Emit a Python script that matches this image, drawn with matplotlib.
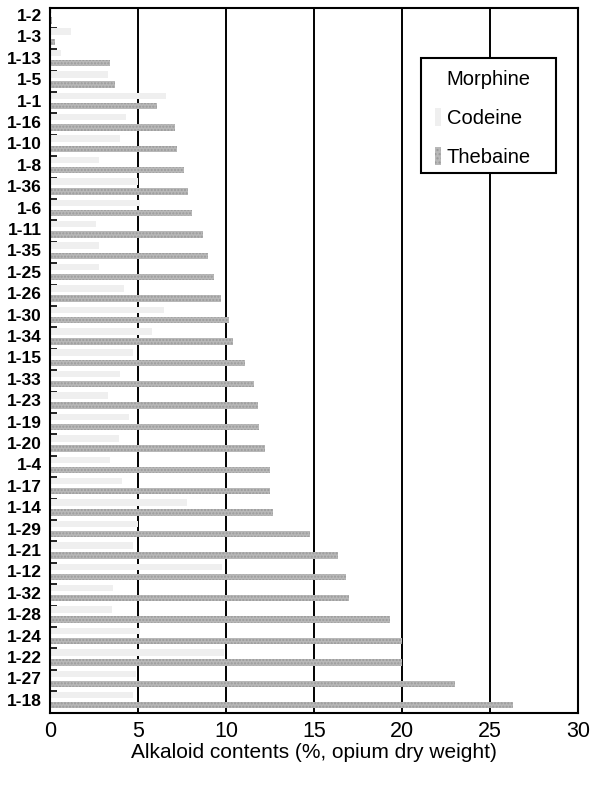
import numpy as np
import matplotlib
matplotlib.use('Agg')
import matplotlib.pyplot as plt
from matplotlib.patches import Patch, Rectangle

plt.rcParams['font.family'] = ['Liberation Sans', 'DejaVu Sans']

### samples, top to bottom
samples = ['1-2', '1-3', '1-13', '1-5', '1-1', '1-16', '1-10', '1-8', '1-36', '1-6',
           '1-11', '1-35', '1-25', '1-26', '1-30', '1-34', '1-15', '1-33', '1-23',
           '1-19', '1-20', '1-4', '1-17', '1-14', '1-29', '1-21', '1-12', '1-32',
           '1-28', '1-24', '1-22', '1-27', '1-18']

### faint dotted bars (codeine)
codeine = [0.1, 1.2, 0.6, 3.3, 6.6, 4.3, 4.0, 2.8, 5.0, 5.1,
           2.6, 2.8, 2.8, 4.2, 6.5, 5.8, 4.7, 4.0, 3.3,
           4.5, 3.9, 3.4, 4.1, 7.8, 5.0, 4.7, 9.8, 3.6,
           3.5, 5.1, 9.9, 4.9, 4.7]

### gray bars (thebaine)
thebaine = [0.1, 0.3, 3.4, 3.7, 6.1, 7.1, 7.2, 7.6, 7.85, 8.05,
            8.7, 9.0, 9.3, 9.7, 10.2, 10.4, 11.1, 11.6, 11.8,
            11.9, 12.2, 12.5, 12.5, 12.7, 14.8, 16.4, 16.8, 17.0,
            19.3, 20.0, 20.0, 23.0, 26.3]

xticks = [0, 5, 10, 15, 20, 25, 30]

fig = plt.figure(figsize=(5.95, 7.91), dpi=100)
ax = fig.add_axes([0.084, 0.099, 0.887, 0.891])

y = np.arange(len(samples))

### vertical lines at 5, 10, ...
for xv in xticks[1:-1]:
    ax.axvline(xv, color='black', lw=1.4, zorder=1)

ax.barh(y - 0.22, codeine, height=0.3, color='#efefef', zorder=2)
ax.barh(y + 0.25, thebaine, height=0.3, color='#b8b8b8', hatch='.....',
        edgecolor='#9a9a9a', linewidth=0, zorder=2)

ax.set_xlim(0, 30)
ax.set_ylim(len(samples) - 0.4, -0.33)
ax.set_yticks(y)
ax.set_yticklabels(samples, fontsize=12.5, fontweight='bold')
ax.set_yticks(y + 0.6, minor=True)
ax.tick_params(axis='y', which='major', length=0, pad=6)
ax.tick_params(axis='y', which='minor', direction='in', length=5, width=1.2)
ax.set_xticks(xticks)
ax.set_xticklabels([str(v) for v in xticks], fontsize=15.5)
ax.tick_params(axis='x', length=0, pad=6)
ax.set_xlabel('Alkaloid contents (%, opium dry weight)', fontsize=15, labelpad=1)

for s in ax.spines.values():
    s.set_linewidth(1.5)

### legend box drawn by hand (wider padding than matplotlib's frame)
ax.add_patch(Rectangle((0.703, 0.766), 0.255, 0.163, transform=ax.transAxes,
                       facecolor='white', edgecolor='black', lw=1.5, zorder=4))
handles = [Patch(facecolor='white', edgecolor='none', label='Morphine'),
           Patch(facecolor='#efefef', edgecolor='none', label='Codeine'),
           Patch(facecolor='#b8b8b8', hatch='....', edgecolor='#9a9a9a', lw=0, label='Thebaine')]
leg = ax.legend(handles=handles, loc='upper left', bbox_to_anchor=(0.729, 0.913),
                borderaxespad=0, fontsize=14.5, frameon=False,
                handlelength=0.3, handleheight=1.0, handletextpad=0.3,
                labelspacing=0.95, borderpad=0)
leg.set_zorder(5)

fig.savefig('out.png', dpi=100)
